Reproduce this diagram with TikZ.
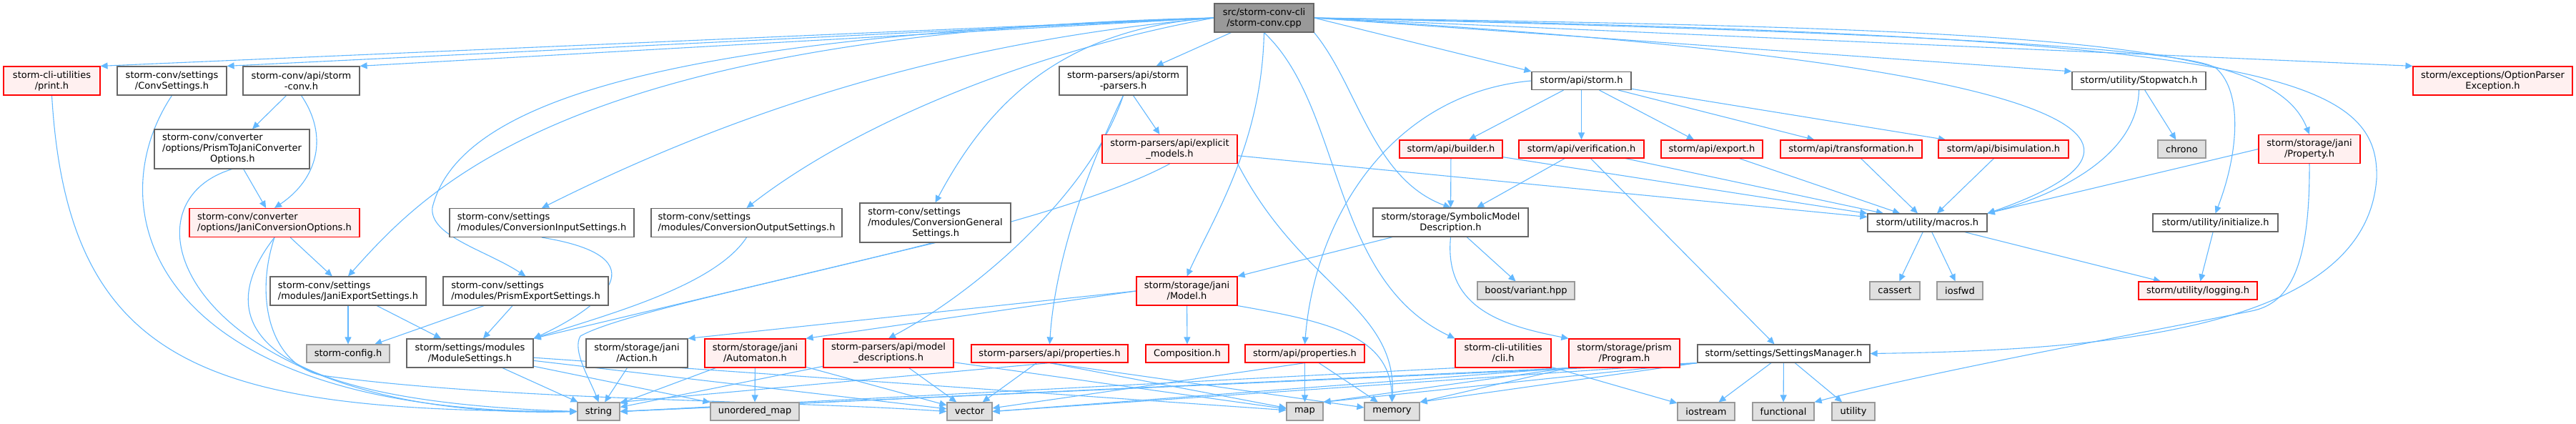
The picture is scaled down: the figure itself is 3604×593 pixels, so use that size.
\documentclass[tikz,border=0pt]{standalone}
\usepackage{fontspec}
\setmainfont{DejaVu Sans}
\usepackage{xcolor}
\usepackage{tikz}
\usetikzlibrary{arrows.meta,backgrounds}
\definecolor{dxedge}{HTML}{63B8FF}
\definecolor{dxgray}{HTML}{666666}
\definecolor{dxroot}{HTML}{999999}
\definecolor{dxsysline}{HTML}{999999}
\definecolor{dxsysfill}{HTML}{E0E0E0}
\definecolor{dxred}{HTML}{FF0000}
\definecolor{dxredfill}{HTML}{FFF0F0}

\begin{document}
\begin{tikzpicture}[
    x=1pt,y=1pt,
    file/.style={draw=dxgray, fill=white, line width=1.2pt, inner sep=0pt, align=center, font=\fontsize{13}{15}\selectfont},
    redfile/.style={file, draw=dxred, fill=dxredfill},
    sysfile/.style={file, draw=dxsysline, fill=dxsysfill},
    rootfile/.style={file, draw=dxgray, fill=dxroot},
    link/.style={draw=dxedge, line width=1.1pt, -{Triangle[length=10pt,width=9pt]}}
  ]
    \useasboundingbox (0,0) rectangle (3604,-593);

    \node[rootfile, minimum width=139pt, minimum height=40pt] (root) at (1768.5,-25) {src/storm-conv-cli\\/storm-conv.cpp};

    \node[redfile, minimum width=135pt, minimum height=40pt] (print) at (72.5,-113) {storm-cli-utilities\\/print.h};
    \node[file, minimum width=153pt, minimum height=40pt] (convset) at (240.5,-113) {storm-conv/settings\\/ConvSettings.h};
    \node[file, minimum width=163pt, minimum height=40pt] (stormconv) at (421.5,-113) {storm-conv/api/storm\\-conv.h};
    \node[file, minimum width=179pt, minimum height=40pt] (parsers) at (1571.5,-113) {storm-parsers/api/storm\\-parsers.h};
    \node[file, minimum width=139pt, minimum height=25pt] (stormapi) at (2212.5,-113) {storm/api/storm.h};
    \node[file, minimum width=187pt, minimum height=25pt] (stopwatch) at (2992.5,-113) {storm/utility/Stopwatch.h};
    \node[redfile, minimum width=223pt, minimum height=40pt] (optparser) at (3487.5,-113) {storm/exceptions/OptionParser\\Exception.h};

    \node[file, align=left, minimum width=217pt, minimum height=55pt] (prismtojani) at (324.5,-208.5) {storm-conv/converter\\/options/PrismToJaniConverter\\\hspace*{67pt}Options.h};
    \node[redfile, minimum width=189pt, minimum height=40pt] (explicit) at (1636.5,-208.5) {storm-parsers/api/explicit\\\_models.h};
    \node[redfile, minimum width=144pt, minimum height=25pt] (builder) at (2030,-208.5) {storm/api/builder.h};
    \node[redfile, minimum width=175pt, minimum height=25pt] (verification) at (2212.5,-208.5) {storm/api/verification.h};
    \node[redfile, minimum width=142pt, minimum height=25pt] (export) at (2395,-208.5) {storm/api/export.h};
    \node[redfile, minimum width=198pt, minimum height=25pt] (transform) at (2590,-208.5) {storm/api/transformation.h};
    \node[redfile, minimum width=182pt, minimum height=25pt] (bisim) at (2803,-208.5) {storm/api/bisimulation.h};
    \node[sysfile, minimum width=67pt, minimum height=25pt] (chrono) at (3052.5,-208.5) {chrono};
    \node[redfile, minimum width=142pt, minimum height=40pt] (property) at (3231,-208.5) {storm/storage/jani\\/Property.h};

    \node[redfile, align=left, minimum width=238pt, minimum height=40pt] (janiconv) at (384,-311.5) {storm-conv/converter\\/options/JaniConversionOptions.h};
    \node[file, align=left, minimum width=258pt, minimum height=40pt] (convin) at (758,-311.5) {storm-conv/settings\\/modules/ConversionInputSettings.h};
    \node[file, align=left, minimum width=267pt, minimum height=40pt] (convout) at (1044.5,-311.5) {storm-conv/settings\\/modules/ConversionOutputSettings.h};
    \node[file, align=left, minimum width=211pt, minimum height=55pt] (convgen) at (1308.5,-311.5) {storm-conv/settings\\/modules/ConversionGeneral\\\hspace*{62pt}Settings.h};
    \node[file, minimum width=217pt, minimum height=40pt] (symbolic) at (2029.5,-311) {storm/storage/SymbolicModel\\Description.h};
    \node[file, minimum width=167pt, minimum height=25pt] (macros) at (2696.5,-311.5) {storm/utility/macros.h};
    \node[file, minimum width=175pt, minimum height=25pt] (initialize) at (3099.5,-311.5) {storm/utility/initialize.h};

    \node[file, align=left, minimum width=218pt, minimum height=40pt] (janiexp) at (487,-407) {storm-conv/settings\\/modules/JaniExportSettings.h};
    \node[file, align=left, minimum width=231pt, minimum height=40pt] (prismexp) at (735.5,-407) {storm-conv/settings\\/modules/PrismExportSettings.h};
    \node[redfile, minimum width=141pt, minimum height=40pt] (janimodel) at (1660.5,-407) {storm/storage/jani\\/Model.h};
    \node[sysfile, minimum width=136pt, minimum height=25pt] (variant) at (2135,-406.5) {boost/variant.hpp};
    \node[sysfile, minimum width=70pt, minimum height=25pt] (cassert) at (2651,-406.5) {cassert};
    \node[sysfile, minimum width=64pt, minimum height=25pt] (iosfwd) at (2742,-406.5) {iosfwd};
    \node[redfile, minimum width=166pt, minimum height=25pt] (logging) at (3075,-406.5) {storm/utility/logging.h};

    \node[sysfile, minimum width=116pt, minimum height=25pt] (stormconfig) at (487,-494.5) {storm-config.h};
    \node[file, minimum width=177pt, minimum height=40pt] (modsettings) at (657.5,-494) {storm/settings/modules\\/ModuleSettings.h};
    \node[file, minimum width=142pt, minimum height=40pt] (action) at (891,-494) {storm/storage/jani\\/Action.h};
    \node[redfile, minimum width=141pt, minimum height=40pt] (automaton) at (1056.5,-494) {storm/storage/jani\\/Automaton.h};
    \node[redfile, minimum width=182pt, minimum height=40pt] (modeldesc) at (1243,-494) {storm-parsers/api/model\\\_descriptions.h};
    \node[redfile, minimum width=219pt, minimum height=25pt] (parsprops) at (1468.5,-494.5) {storm-parsers/api/properties.h};
    \node[redfile, minimum width=116pt, minimum height=25pt] (composition) at (1661,-494.5) {Composition.h};
    \node[redfile, minimum width=167pt, minimum height=25pt] (apiprops) at (1825.5,-494.5) {storm/api/properties.h};
    \node[redfile, minimum width=134pt, minimum height=40pt] (cli) at (2103,-494) {storm-cli-utilities\\/cli.h};
    \node[redfile, minimum width=155pt, minimum height=40pt] (program) at (2272.5,-494) {storm/storage/prism\\/Program.h};
    \node[file, minimum width=241pt, minimum height=25pt] (settingsmgr) at (2495.5,-494.5) {storm/settings/SettingsManager.h};

    \node[sysfile, minimum width=59pt, minimum height=25pt] (string) at (837.5,-575.5) {string};
    \node[sysfile, minimum width=124pt, minimum height=25pt] (umap) at (1056,-575.5) {unordered\_map};
    \node[sysfile, minimum width=63pt, minimum height=25pt] (vector) at (1356.5,-575.5) {vector};
    \node[sysfile, minimum width=51pt, minimum height=25pt] (map) at (1825.5,-575.5) {map};
    \node[sysfile, minimum width=77pt, minimum height=25pt] (memory) at (1947.5,-575.5) {memory};
    \node[sysfile, minimum width=80pt, minimum height=25pt] (iostream) at (2387,-575.5) {iostream};
    \node[sysfile, minimum width=86pt, minimum height=25pt] (functional) at (2495,-575.5) {functional};
    \node[sysfile, minimum width=60pt, minimum height=25pt] (utility) at (2593,-575.5) {utility};

    \begin{scope}[on background layer]
    \draw[link] (root.west) -- (print.north east);
    \draw[link] (root.west) -- (convset.north east);
    \draw[link] (root.west) -- (stormconv.north east);
    \draw[link] (root.west) .. controls (800,-45) and (600,-260) .. (janiexp.north);
    \draw[link] (root.west) .. controls (900,-50) and (640,-150) .. (605,-290) .. controls (600,-330) and (680,-350) .. (prismexp.north);
    \draw[link] (root.west) .. controls (1300,-60) and (1000,-170) .. (convin.north);
    \draw[link] (root.west) .. controls (1450,-70) and (1200,-170) .. (convout.north);
    \draw[link] (root.west) .. controls (1480,-40) and (1380,-150) .. (convgen.north);
    \draw[link] (root) -- (parsers);
    \draw[link] (root.south) .. controls (1765,-200) and (1700,-300) .. (janimodel.north);
    \draw[link] (root.south east) .. controls (1900,-120) and (1920,-250) .. (symbolic.north);
    \draw[link] (root.south) .. controls (1880,-150) and (1860,-390) .. (cli.north west);
    \draw[link] (root.east) -- (stormapi.north west);
    \draw[link] (root.east) -- (stopwatch.north west);
    \draw[link] (root.east) -- (optparser.north west);
    \draw[link] (root.east) .. controls (2900,-40) and (3180,-60) .. (property.north);
    \draw[link] (root.east) .. controls (2700,-45) and (3060,-70) .. (3100,-95) .. controls (3140,-130) and (3130,-220) .. (initialize.north);
    \draw[link] (root.east) .. controls (2800,-80) and (3120,-180) .. (macros.north east);
    \draw[link] (root.east) .. controls (3150,-50) and (3330,-100) .. (3325,-250) .. controls (3310,-460) and (2950,-490) .. (settingsmgr.east);

    \draw[link] (print.south) .. controls (95,-520) and (300,-575) .. (string.west);
    \draw[link] (convset.south) .. controls (130,-300) and (220,-580) .. (string.west);
    \draw[link] (stormconv) -- (prismtojani);
    \draw[link] (stormconv.south) .. controls (460,-190) and (445,-250) .. (janiconv.north);
    \draw[link] (prismtojani) -- (janiconv);
    \draw[link] (prismtojani.south) .. controls (150,-290) and (280,-590) .. (string.west);
    \draw[link] (janiconv) -- (janiexp);
    \draw[link] (janiconv.south) .. controls (300,-440) and (330,-560) .. (string.west);
    \draw[link] (janiconv.south) .. controls (355,-420) and (380,-510) .. (450,-525) .. controls (700,-560) and (1100,-560) .. (vector.west);
    \draw[link] (janiexp) -- (stormconfig);
    \draw[link] (janiexp) -- (modsettings);
    \draw[link] (prismexp) -- (stormconfig);
    \draw[link] (prismexp) -- (modsettings);
    \draw[link] (convin.south) .. controls (930,-360) and (840,-430) .. (modsettings.north east);
    \draw[link] (convout.south) .. controls (1000,-400) and (850,-440) .. (modsettings.north east);
    \draw[link] (convgen.south) -- (modsettings.north east);

    \draw[link] (parsers) -- (explicit);
    \draw[link] (parsers.south) .. controls (1530,-260) and (1380,-400) .. (modeldesc.north);
    \draw[link] (parsers.south) .. controls (1510,-260) and (1475,-380) .. (parsprops.north);
    \draw[link] (explicit.south) .. controls (1450,-330) and (900,-420) .. (812,-470) .. controls (800,-490) and (825,-530) .. (string.north);
    \draw[link] (explicit.south east) .. controls (1820,-400) and (1955,-430) .. (memory.north);
    \draw[link] (explicit) -- (macros);

    \draw[link] (symbolic) -- (janimodel.north east);
    \draw[link] (symbolic) -- (variant);
    \draw[link] (symbolic.south) .. controls (2020,-430) and (2100,-455) .. (program.north west);
    \draw[link] (janimodel.west) -- (action.north east);
    \draw[link] (janimodel.west) -- (automaton.north east);
    \draw[link] (janimodel) -- (composition);
    \draw[link] (janimodel.south east) .. controls (1860,-450) and (1945,-470) .. (memory.north);

    \draw[link] (stormapi) -- (builder);
    \draw[link] (stormapi) -- (verification);
    \draw[link] (stormapi) -- (export);
    \draw[link] (stormapi) -- (transform);
    \draw[link] (stormapi) -- (bisim);
    \draw[link] (stormapi.west) .. controls (1950,-130) and (1840,-300) .. (apiprops.north);
    \draw[link] (builder) -- (symbolic);
    \draw[link] (builder) -- (macros);
    \draw[link] (verification) -- (symbolic);
    \draw[link] (verification) -- (macros);
    \draw[link] (verification) -- (settingsmgr);
    \draw[link] (export) -- (macros);
    \draw[link] (transform) -- (macros);
    \draw[link] (bisim) -- (macros);
    \draw[link] (stopwatch.south) .. controls (2990,-230) and (2850,-280) .. (macros.north east);
    \draw[link] (stopwatch) -- (chrono);
    \draw[link] (property.west) -- (macros.north east);
    \draw[link] (property.south) .. controls (3232,-380) and (3200,-425) .. (3150,-435) .. controls (3000,-465) and (2700,-520) .. (functional.north east);
    \draw[link] (initialize) -- (logging);
    \draw[link] (macros) -- (cassert);
    \draw[link] (macros) -- (iosfwd);
    \draw[link] (macros) -- (logging);

    \draw[link] (modsettings) -- (string);
    \draw[link] (modsettings) -- (umap);
    \draw[link] (modsettings) -- (vector);
    \draw[link] (modsettings) -- (map);
    \draw[link] (action) -- (string);
    \draw[link] (automaton) -- (string);
    \draw[link] (automaton) -- (umap);
    \draw[link] (automaton) -- (vector);
    \draw[link] (modeldesc) -- (string);
    \draw[link] (modeldesc) -- (vector);
    \draw[link] (modeldesc) -- (map);
    \draw[link] (parsprops.south) -- (string.north east);
    \draw[link] (parsprops) -- (vector);
    \draw[link] (parsprops.south) -- (map);
    \draw[link] (parsprops.south) -- (memory);
    \draw[link] (apiprops.south) -- (vector);
    \draw[link] (apiprops) -- (map);
    \draw[link] (apiprops) -- (memory);
    \draw[link] (cli.south west) -- (string.east);
    \draw[link] (cli) -- (iostream);
    \draw[link] (program.south west) -- (string.east);
    \draw[link] (program.south west) -- (vector.east);
    \draw[link] (program.south west) -- (map.north east);
    \draw[link] (program.south west) -- (memory.north east);
    \draw[link] (settingsmgr.south west) -- (string.east);
    \draw[link] (settingsmgr.south west) -- (vector.east);
    \draw[link] (settingsmgr.south west) -- (map.north east);
    \draw[link] (settingsmgr.south west) -- (memory.north east);
    \draw[link] (settingsmgr) -- (iostream);
    \draw[link] (settingsmgr) -- (functional);
    \draw[link] (settingsmgr) -- (utility);
    \end{scope}
\end{tikzpicture}
\end{document}
